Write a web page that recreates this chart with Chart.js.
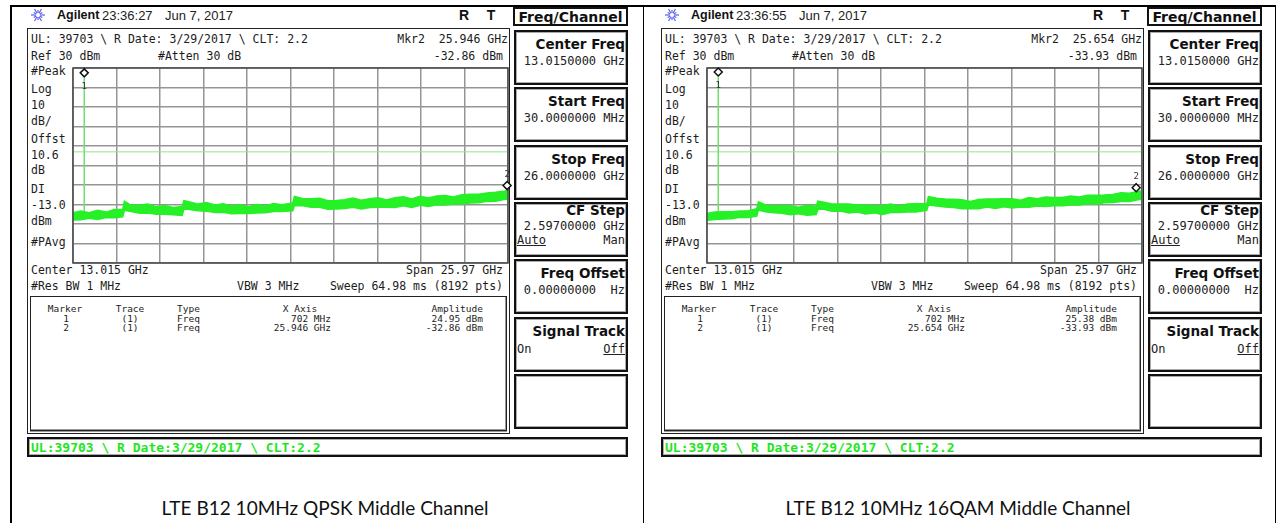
<!DOCTYPE html>
<html>
<head>
<meta charset="utf-8">
<title>LTE B12 10MHz spurious emissions</title>
<script src="https://cdn.jsdelivr.net/npm/chart.js@4.4.1/dist/chart.umd.min.js"></script>
<style>
  html, body { margin: 0; padding: 0; background: #fff; }
  #page { position: relative; width: 1277px; height: 523px; overflow: hidden; }
  .abs { position: absolute; white-space: pre; line-height: 1; }
  .scr { font-family: 'DejaVu Sans Mono', monospace; font-size: 11.5px; color: #1c1c1c; }
  .tbl { font-family: 'DejaVu Sans Mono', monospace; font-size: 9.5px; color: #1c1c1c; }
  .hdr { font-family: 'Liberation Sans', Arial, sans-serif; font-size: 13px; color: #222; }
  .hdrb { font-family: 'Liberation Sans', Arial, sans-serif; font-size: 12.5px; font-weight: bold; color: #111; }
  .key { font-family: 'DejaVu Sans', sans-serif; font-weight: bold; font-size: 13.5px; color: #111; }
  .kval { font-family: 'DejaVu Sans Mono', monospace; font-size: 12px; color: #222; }
  .stat { font-family: 'DejaVu Sans Mono', monospace; font-weight: bold; font-size: 13px; color: #1ee61e; }
  .cap { font-family: Lato, 'Open Sans', sans-serif; font-size: 19px; color: #111; }
  .box { position: absolute; box-sizing: border-box; }
  .plot { position: absolute; }
</style>
</head>
<body>
<div id="page"></div>
<script>
// sweep settings
const startFreq = 0.03;   // GHz
const stopFreq = 26.0;    // GHz
const refLevel = 30;      // dBm
const dbPerDiv = 10;
const displayLine = -13.0;

// trace envelope (GHz / dBm)
const freqGHz = [0.03, 0.5, 1.0, 1.5, 2.0, 2.5, 3.0, 3.1, 3.5, 4.0, 4.5, 5.0, 5.5, 6.0, 6.55, 6.65,
  7.0, 7.5, 8.0, 8.5, 9.0, 9.5, 10.0, 10.5, 11.0, 11.5, 12.0, 12.5, 13.15, 13.25, 13.75, 14.25,
  14.75, 15.25, 15.75, 16.25, 16.75, 17.25, 17.75, 18.25, 18.75, 19.25, 19.75, 20.25, 20.75, 21.25,
  21.75, 22.25, 22.75, 23.25, 23.75, 24.25, 24.75, 25.25, 25.75, 26.0];

const qpskHi = [-44.3, -43.4, -44.2, -43.0, -43.9, -42.6, -42.5, -38.3, -40.4, -40.4, -39.7, -41.2, -40.5, -41.5, -41.0, -38.0,
  -38.7, -39.8, -39.0, -40.3, -39.6, -40.8, -40.1, -41.1, -40.0, -40.8, -39.5, -40.1, -39.2, -35.8, -37.0, -37.0,
  -36.8, -38.1, -38.0, -37.6, -36.7, -37.8, -37.1, -36.6, -37.7, -36.5, -36.0, -37.2, -35.8, -36.7,
  -35.7, -35.4, -36.1, -35.0, -34.7, -34.8, -34.1, -33.7, -33.2, -32.8];
const qpskLo = [-48.0, -47.8, -47.0, -47.7, -46.7, -46.8, -46.3, -43.0, -43.6, -44.5, -44.4, -45.0, -45.0, -45.2, -45.6, -42.3,
  -42.6, -43.2, -43.4, -44.1, -44.0, -44.7, -44.6, -44.6, -44.4, -44.2, -43.6, -43.6, -43.2, -40.5, -40.6, -41.4,
  -41.4, -42.4, -42.3, -42.1, -41.4, -42.3, -41.6, -41.4, -41.4, -41.6, -40.7, -41.5, -40.4, -41.0,
  -40.1, -40.2, -39.7, -39.8, -39.2, -39.1, -38.4, -38.3, -37.4, -37.2];

const qamHi = [-44.6, -43.8, -43.7, -43.7, -43.3, -43.2, -42.2, -38.6, -40.1, -40.6, -40.5, -40.7, -41.4, -40.4, -40.9, -38.3,
  -38.8, -39.7, -39.7, -39.8, -40.2, -40.3, -40.5, -40.6, -39.8, -40.7, -39.7, -39.6, -39.6, -36.0, -36.8, -37.2,
  -37.3, -37.5, -38.5, -37.4, -37.2, -37.2, -37.1, -37.0, -37.8, -36.4, -37.1, -36.2, -36.4, -36.4,
  -35.6, -36.1, -35.3, -35.2, -35.1, -34.9, -34.0, -34.2, -33.3, -33.0];
const qamLo = [-48.1, -47.7, -47.4, -47.3, -46.6, -46.7, -46.0, -42.8, -43.7, -44.2, -44.5, -45.2, -44.7, -45.5, -45.1, -42.5,
  -42.4, -43.5, -43.3, -44.3, -43.8, -44.9, -44.3, -45.1, -44.1, -44.1, -43.8, -43.8, -43.0, -40.3, -40.8, -41.3,
  -41.5, -42.2, -42.2, -42.2, -41.3, -42.1, -41.2, -41.8, -41.3, -41.4, -40.8, -41.0, -40.7, -40.7,
  -40.2, -40.3, -39.6, -39.9, -39.1, -39.0, -38.5, -38.4, -37.6, -37.3];

// markers (GHz / dBm)
const qpskMarkerFreq = [0.702, 25.946];
const qpskMarkerAmp = [24.95, -32.86];
const qamMarkerFreq = [0.702, 25.654];
const qamMarkerAmp = [25.38, -33.93];

const timeStamps = ['23:36:27', '23:36:55'];
const captions = ['LTE B12 10MHz QPSK Middle Channel', 'LTE B12 10MHz 16QAM Middle Channel'];
const mkrFreqText = [['702 MHz', '25.946 GHz'], ['702 MHz', '25.654 GHz']];
const mkrAmpText = [['24.95 dBm', '-32.86 dBm'], ['25.38 dBm', '-33.93 dBm']];

const softKeys = [
  ['Center Freq', '13.0150000 GHz'],
  ['Start Freq', '30.0000000 MHz'],
  ['Stop Freq', '26.0000000 GHz'],
  ['CF Step', '2.59700000 GHz', 'Auto', 'Man', 0],
  ['Freq Offset', '0.00000000  Hz'],
  ['Signal Track', null, 'On', 'Off', 1],
  [null]
];
const leftLabels = [['#Peak', 72], ['Log', 90], ['10', 106], ['dB/', 122], ['Offst', 140], ['10.6', 156],
  ['dB', 171], ['DI', 190], ['-13.0', 206], ['dBm', 222], ['#PAvg', 243]];

const traceColor = '#26f026';
const page = document.getElementById('page');

function put(text, x, y, cls, align, extra) {
  const d = document.createElement('div');
  d.className = 'abs ' + cls;
  d.textContent = text;
  d.style.left = x + 'px';
  d.style.top = y + 'px';
  const tx = align === 'right' ? '-100%' : align === 'center' ? '-50%' : '0';
  d.style.transform = 'translate(' + tx + ', -50%)';
  if (extra) Object.assign(d.style, extra);
  page.appendChild(d);
  return d;
}

function box(x, y, w, h, style) {
  const d = document.createElement('div');
  d.className = 'box';
  Object.assign(d.style, { left: x + 'px', top: y + 'px', width: w + 'px', height: h + 'px' }, style);
  page.appendChild(d);
  return d;
}

function logo(x, y) {
  const ns = 'http://www.w3.org/2000/svg';
  const svg = document.createElementNS(ns, 'svg');
  svg.setAttribute('width', 16);
  svg.setAttribute('height', 16);
  svg.setAttribute('viewBox', '-8 -8 16 16');
  svg.style.position = 'absolute';
  svg.style.left = (x - 8) + 'px';
  svg.style.top = (y - 8) + 'px';
  for (let i = 0; i < 12; i++) {
    const a = i * Math.PI / 6;
    const l = document.createElementNS(ns, 'line');
    l.setAttribute('x1', Math.cos(a) * 2);
    l.setAttribute('y1', Math.sin(a) * 2);
    l.setAttribute('x2', Math.cos(a) * (i % 2 ? 5 : 7));
    l.setAttribute('y2', Math.sin(a) * (i % 2 ? 5 : 7));
    l.setAttribute('stroke', '#5a5cf2');
    l.setAttribute('stroke-width', '1.2');
    svg.appendChild(l);
  }
  page.appendChild(svg);
}

// markers, display frame
const markerPlugin = {
  id: 'mkr',
  afterDatasetsDraw(chart, args, opts) {
    const { ctx, chartArea } = chart;
    const x = chart.scales.x, y = chart.scales.y;
    ctx.save();
    ctx.strokeStyle = '#4a4a4a';
    ctx.lineWidth = 1.5;
    ctx.strokeRect(chartArea.left, chartArea.top, chartArea.right - chartArea.left, chartArea.bottom - chartArea.top);
    opts.freqs.forEach((f, i) => {
      const px = x.getPixelForValue(f);
      const py = y.getPixelForValue(opts.amps[i]) - 5;
      ctx.beginPath();
      ctx.moveTo(px, py - 4);
      ctx.lineTo(px + 4, py);
      ctx.lineTo(px, py + 4);
      ctx.lineTo(px - 4, py);
      ctx.closePath();
      ctx.fillStyle = '#fff';
      ctx.fill();
      ctx.lineWidth = 1.5;
      ctx.strokeStyle = '#111';
      ctx.stroke();
      ctx.font = '9px "DejaVu Sans Mono"';
      ctx.fillStyle = '#333';
      ctx.textAlign = 'center';
      ctx.textBaseline = 'middle';
      const ly = py - 14 < chartArea.top ? py + 14 : py - 11;
      ctx.fillText(String(i + 1), px, ly);
    });
    ctx.restore();
  }
};

function makeChart(ox, hi, lo, mFreq, mAmp) {
  const wrap = document.createElement('canvas');
  wrap.className = 'plot';
  wrap.width = 455;
  wrap.height = 215;
  wrap.style.left = (63 + ox) + 'px';
  wrap.style.top = '58px';
  page.appendChild(wrap);

  const gridOpts = { color: '#959595', lineWidth: 1.5, drawTicks: false };
  new Chart(wrap, {
    type: 'line',
    data: {
      datasets: [
        {
          data: freqGHz.map((f, i) => ({ x: f, y: lo[i] })),
          borderColor: traceColor, borderWidth: 1.5, pointRadius: 0, fill: false
        },
        {
          data: freqGHz.map((f, i) => ({ x: f, y: hi[i] })),
          borderColor: traceColor, backgroundColor: traceColor, borderWidth: 1.5, pointRadius: 0, fill: '-1'
        },
        {
          data: [{ x: mFreq[0], y: hi[1] }, { x: mFreq[0], y: mAmp[0] }],
          borderColor: '#6fe06f', borderWidth: 1.5, pointRadius: 0, fill: false
        },
        {
          data: [{ x: startFreq, y: displayLine }, { x: stopFreq, y: displayLine }],
          borderColor: '#8fe48f', borderWidth: 1, pointRadius: 0, fill: false
        }
      ]
    },
    options: {
      responsive: false,
      animation: false,
      layout: { padding: 10 },
      scales: {
        x: {
          type: 'linear', min: startFreq, max: stopFreq,
          afterBuildTicks: (s) => {
            s.ticks = Array.from({ length: 11 }, (_, i) => ({ value: startFreq + i * (stopFreq - startFreq) / 10 }));
          },
          ticks: { display: false }, grid: gridOpts, border: { display: false }
        },
        y: {
          min: refLevel - 10 * dbPerDiv, max: refLevel,
          ticks: { display: false, stepSize: dbPerDiv }, grid: gridOpts, border: { display: false }
        }
      },
      plugins: {
        legend: { display: false },
        tooltip: { enabled: false },
        mkr: { freqs: mFreq, amps: mAmp }
      }
    },
    plugins: [markerPlugin]
  });
}

function buildPanel(p, ox) {
  // header
  logo(38 + ox, 15);
  put('Agilent', 57 + ox, 15, 'hdrb');
  put(timeStamps[p], 102 + ox, 15, 'hdr');
  put('Jun 7, 2017', 165 + ox, 15, 'hdr');
  put('R', 464 + ox, 15, 'hdrb', 'center', { fontSize: '14px' });
  put('T', 491 + ox, 15, 'hdrb', 'center', { fontSize: '14px' });

  // screen frame
  box(27 + ox, 28, 483, 406, { border: '1.5px solid #222' });
  put('UL: 39703 \\ R Date: 3/29/2017 \\ CLT: 2.2', 31 + ox, 40, 'scr');
  put('Mkr2  ' + mkrFreqText[p][1], 508 + ox, 40, 'scr', 'right');
  put('Ref 30 dBm', 31 + ox, 57, 'scr');
  put('#Atten 30 dB', 158 + ox, 57, 'scr');
  put(mkrAmpText[p][1], 503 + ox, 57, 'scr', 'right');
  leftLabels.forEach(([t, y]) => put(t, 31 + ox, y, 'scr'));
  put('Center 13.015 GHz', 31 + ox, 271, 'scr');
  put('Span 25.97 GHz', 503 + ox, 271, 'scr', 'right');
  put('#Res BW 1 MHz', 31 + ox, 287, 'scr');
  put('VBW 3 MHz', 237 + ox, 287, 'scr');
  put('Sweep 64.98 ms (8192 pts)', 503 + ox, 287, 'scr', 'right');

  // marker table
  box(30 + ox, 296, 477, 135, { border: '1px solid #222', boxShadow: 'inset -1px -1px 0 #999, 0 1px 0 #999' });
  put('Marker', 65 + ox, 309, 'tbl', 'center');
  put('Trace', 130 + ox, 309, 'tbl', 'center');
  put('Type', 177 + ox, 309, 'tbl');
  put('X Axis', 300 + ox, 309, 'tbl', 'center');
  put('Amplitude', 483 + ox, 309, 'tbl', 'right');
  [318.5, 327.5].forEach((y, i) => {
    put(String(i + 1), 66 + ox, y, 'tbl', 'center');
    put('(1)', 130 + ox, y, 'tbl', 'center');
    put('Freq', 177 + ox, y, 'tbl');
    put(mkrFreqText[p][i], 331 + ox, y, 'tbl', 'right');
    put(mkrAmpText[p][i], 483 + ox, y, 'tbl', 'right');
  });

  // status line
  box(27 + ox, 437, 601, 20, { border: '2px solid #111', boxShadow: 'inset 0 0 0 1px #aaa' });
  put('UL:39703 \\ R Date:3/29/2017 \\ CLT:2.2', 31 + ox, 447, 'stat');

  // softkeys
  box(513 + ox, 7, 115, 19, { border: '2px solid #111' });
  put('Freq/Channel', 570.5 + ox, 16.5, 'key', 'center', { fontSize: '14px' });
  softKeys.forEach((k, i) => {
    const top = 30 + i * 57.3;
    box(514 + ox, top, 114, 55, { border: '2px solid #111', boxShadow: 'inset 0 0 0 1px #aaa' });
    if (!k[0]) return;
    const toggles = k.length > 2;
    const withValue = !!k[1];
    const ly = toggles && withValue ? top + 9 : top + 15;
    put(k[0], 625 + ox, ly, 'key', 'right');
    if (withValue) put(k[1], 625 + ox, toggles ? top + 24 : top + 31, 'kval', 'right');
    if (toggles) {
      const ty = withValue ? top + 38 : top + 32;
      const u = { textDecoration: 'underline' };
      put(k[2], 517 + ox, ty, 'kval', 'left', k[4] === 0 ? u : null);
      put(k[3], 625 + ox, ty, 'kval', 'right', k[4] === 1 ? u : null);
    }
  });

  put(captions[p], 325 + ox + (p ? -1 : 0), 507, 'cap', 'center');
}

// document table lines
box(10, 5, 1266, 1.5, { background: '#000' });
box(10, 5, 1.5, 518, { background: '#000' });
box(642.5, 5, 1.5, 518, { background: '#000' });
box(1274.5, 5, 1.5, 518, { background: '#000' });

buildPanel(0, 0);
buildPanel(1, 634);
makeChart(0, qpskHi, qpskLo, qpskMarkerFreq, qpskMarkerAmp);
makeChart(634, qamHi, qamLo, qamMarkerFreq, qamMarkerAmp);
</script>
</body>
</html>
